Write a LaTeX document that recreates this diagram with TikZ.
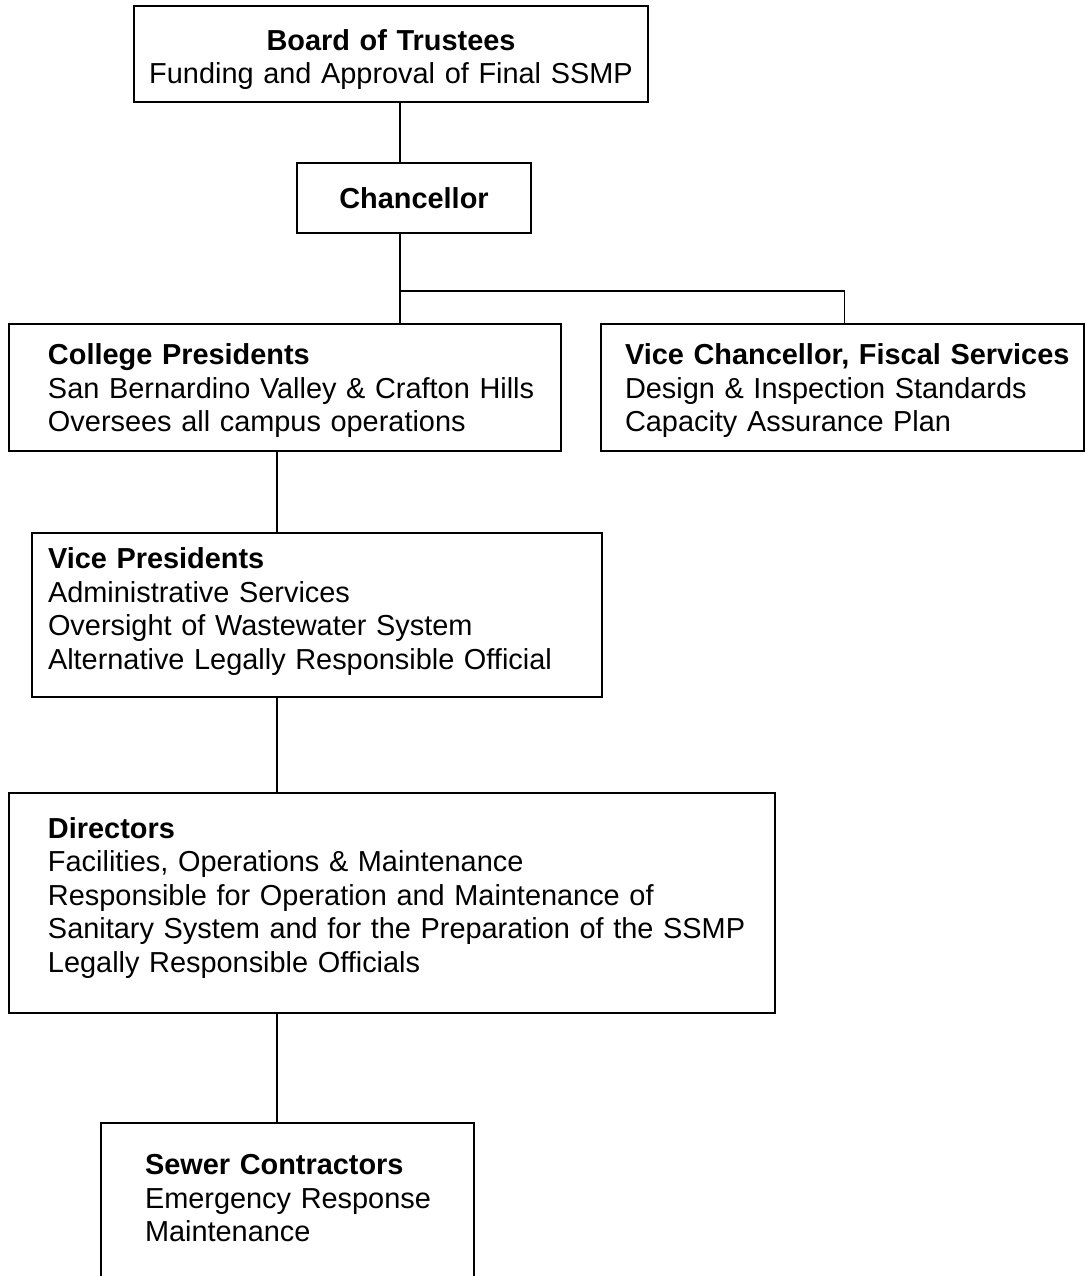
\documentclass[tikz,border=0pt]{standalone}
\usepackage{fontspec}
\setmainfont{Liberation Sans}
\usetikzlibrary{positioning}
\usetikzlibrary{calc}
\newcommand{\unitgap}[1]{\endgraf\kern#1}

\begin{document}
\begin{tikzpicture}[
			x=1pt, y=1pt,
			unit/.style={rectangle, draw=black, line width=1.8pt, inner sep=0pt, outer sep=0pt, align=left, font=\fontsize{28.9}{33.5}\selectfont},
			head/.style={unit, align=center},
			indent/.style={execute at begin node={\leftskip=#1}},
			lift/.style={execute at end node={\unitgap{#1}}},
			link/.style={line width=1.8pt},
			]
			
			\useasboundingbox (0,0) rectangle (1085,-1276);
			
			\node[head, text width=514pt, minimum height=96pt, lift=-11pt] (board) at (391,-54)                         {\textbf{Board of Trustees}\\Funding and Approval of Final SSMP};
			\node[head, text width=234pt, minimum height=70pt] (chancellor) [below=61pt of board, xshift=23pt]           {\textbf{Chancellor}};
			\node[unit, text width=552pt, minimum height=127pt, indent=39pt, lift=-7pt] (college) [below=91pt of chancellor, xshift=-129pt] {\textbf{College Presidents}\\San Bernardino Valley \& Crafton Hills\\Oversees all campus operations};
			\node[unit, text width=483pt, minimum height=127pt, indent=24pt, lift=-7pt] (vicechancellor) [right=40pt of college] {\textbf{Vice Chancellor, Fiscal Services}\\Design \& Inspection Standards\\Capacity Assurance Plan};
			\node[unit, text width=570pt, minimum height=164pt, indent=16pt, lift=7pt] (vicepresidents) [below=82pt of college, xshift=32pt] {\textbf{Vice Presidents}\\Administrative Services\\Oversight of Wastewater System\\Alternative Legally Responsible Official};
			\node[unit, text width=766pt, minimum height=220pt, indent=39pt, lift=10pt] (directors) [below=96pt of vicepresidents, xshift=75pt] {\textbf{Directors}\\Facilities, Operations \& Maintenance\\Responsible for Operation and Maintenance of\\Sanitary System and for the Preparation of the SSMP\\Legally Responsible Officials};
			\node[unit, text width=373pt, minimum height=160pt, indent=44pt, lift=9pt] (sewer) [below=110pt of directors, xshift=-104.5pt] {\textbf{Sewer Contractors}\\Emergency Response\\Maintenance};
			
			% upper trunk and the branch to the vice chancellor
			\coordinate (spine) at ([xshift=9pt]board.south);
			\draw [link] (spine) -- (spine |- chancellor.north);
			\draw [link] (spine |- chancellor.south) -- (spine |- college.north);
			\draw [link] ([yshift=33pt]spine |- college.north) -| ([xshift=2pt]vicechancellor.north);
			
			% lower trunk
			\coordinate (stem) at ([xshift=-8pt]college.south);
			\draw [link] (stem) -- (stem |- vicepresidents.north);
			\draw [link] (stem |- vicepresidents.south) -- (stem |- directors.north);
			\draw [link] (stem |- directors.south) -- (stem |- sewer.north);
			
			\end{tikzpicture}
\end{document}
